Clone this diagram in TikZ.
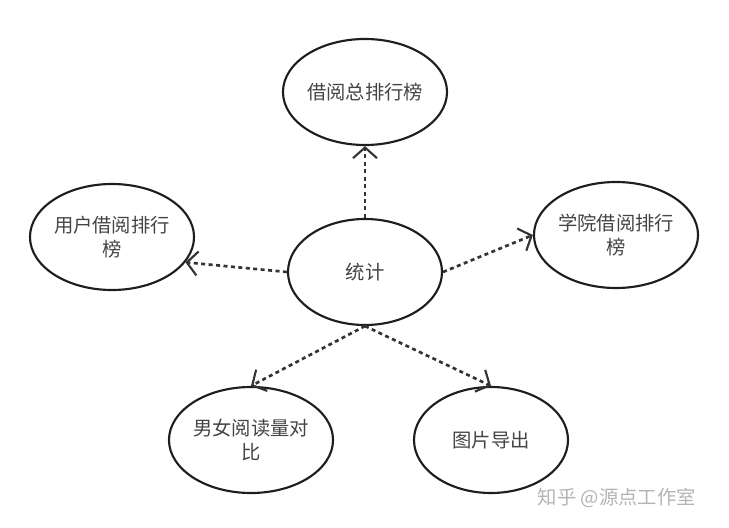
\documentclass[tikz,border=0pt]{standalone}
\usepackage{fontspec}
\setmainfont{Noto Sans CJK SC}
\usetikzlibrary{arrows.meta, shapes.geometric}
\definecolor{outline}{HTML}{1E1E1E}
\definecolor{txtgray}{HTML}{444444}
\definecolor{linkgray}{HTML}{333333}
\definecolor{markgray}{HTML}{B4B4B4}

\tikzset{
  ellip/.style={ellipse, draw=outline, line width=1.6pt, inner sep=0pt,
    minimum width=115.5pt, minimum height=79.5pt, align=center,
    font=\fontsize{14.5}{17.5}\selectfont, text=txtgray},
  link/.style={linkgray, line width=2pt, dash pattern=on 3pt off 2.6pt,
    -{Straight Barb[length=8pt, width=18pt, line width=1.6pt]}},
}

\begin{document}
\begin{tikzpicture}[x=0.75pt, y=-0.75pt]

% Canvas: 729 x 528 px, y runs downward
\useasboundingbox (0,0) rectangle (729,528);

% ================================================================
% Centre node and the five report nodes
% ================================================================
\node[ellip] (stat) at (365,272) {统计};

\node[ellip] (top)         at (365,92)  {借阅总排行榜};
\node[ellip] (userrank)    at (112,237) {用户借阅排行\\榜};
\node[ellip] (collegerank) at (616,235) {学院借阅排行\\榜};
\node[ellip] (gender)      at (251,440) {男女阅读量对\\比};
\node[ellip] (export)      at (491,440) {图片导出};

% ================================================================
% Dotted connectors from the centre
% ================================================================
\draw[link] (stat.north) -- (top.south);
\draw[link] (stat.west)  -- (userrank.-19);
\draw[link] (stat.east)  -- (collegerank.west);
\draw[link] (stat.south) -- (gender.north);
\draw[link] (stat.south) -- (export.north);

% Watermark
\node[font=\fontsize{14.5}{17.5}\selectfont, text=markgray, anchor=west]
  (mark) at (533,498) {知乎 @源点工作室};

\end{tikzpicture}
\end{document}
